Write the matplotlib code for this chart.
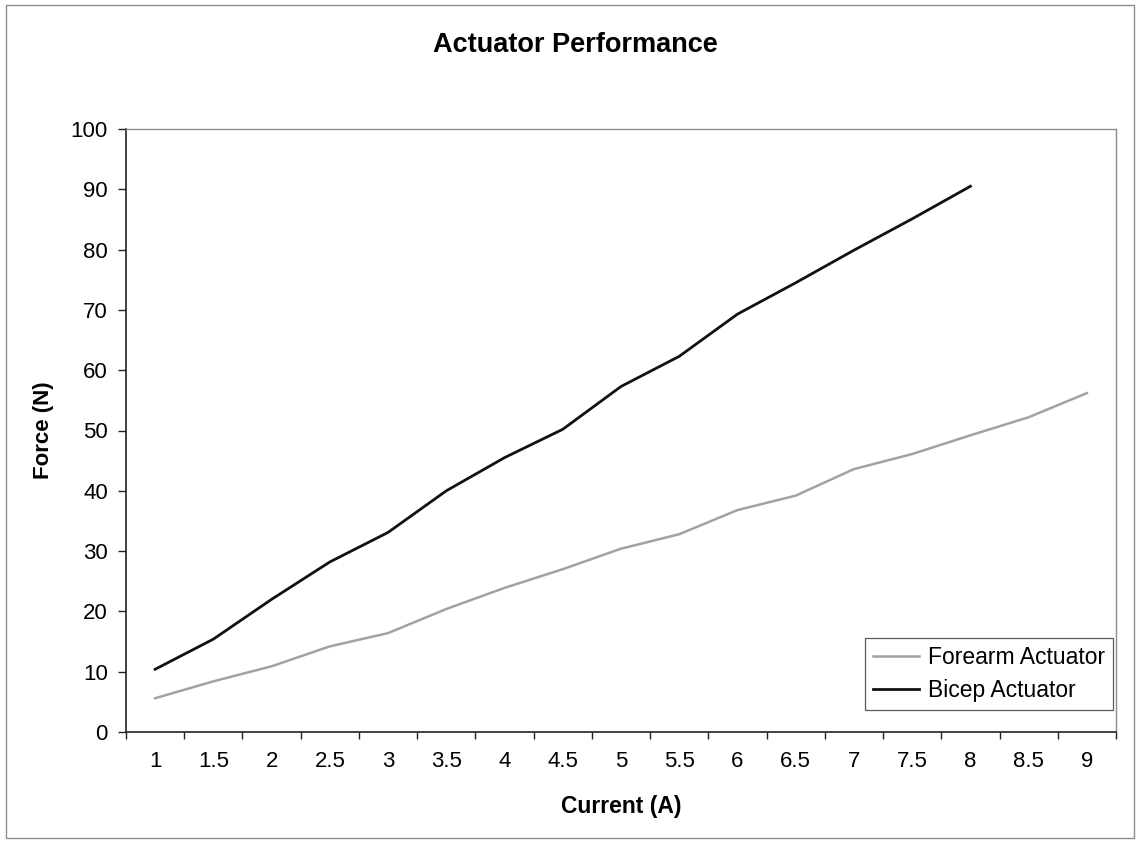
import matplotlib
matplotlib.use("Agg")
import matplotlib.pyplot as plt
from matplotlib.patches import Rectangle
import numpy as np

plt.rcParams["font.family"] = ["Liberation Sans", "DejaVu Sans"]

current = [1, 1.5, 2, 2.5, 3, 3.5, 4, 4.5, 5, 5.5, 6, 6.5, 7, 7.5, 8, 8.5, 9]
forearm = [5.6, 8.4, 10.9, 14.2, 16.4, 20.4, 23.9, 27.0, 30.4, 32.8,
           36.8, 39.2, 43.6, 46.1, 49.2, 52.2, 56.2]
bicep = [10.4, 15.4, 22.0, 28.2, 33.1, 40.0, 45.5, 50.2, 57.3, 62.3,
         69.3, 74.5, 79.9, 85.1, 90.5]
tick_labels = ["1", "1.5", "2", "2.5", "3", "3.5", "4", "4.5", "5",
               "5.5", "6", "6.5", "7", "7.5", "8", "8.5", "9"]

W, H = 1139, 842
fig = plt.figure(figsize=(W / 100, H / 100), dpi=100)
ax = fig.add_axes([126 / W, 1 - 732 / H, 990 / W, 603 / H])

# thin border round the whole chart
fig.patches.append(Rectangle((6 / W, 1 - 838 / H), 1128 / W, 833 / H,
                             transform=fig.transFigure, fill=False,
                             edgecolor="#8c8c8c", linewidth=1.0))

ax.plot(current, forearm, color="#a2a2a2", linewidth=1.8, label="Forearm Actuator")
ax.plot(current[:len(bicep)], bicep, color="#111111", linewidth=2.0, label="Bicep Actuator")

ax.set_xlim(0.75, 9.25)
ax.set_ylim(0, 100)

# category style axis: tick marks between categories, labels centred on them
ax.set_xticks(np.arange(0.75, 9.26, 0.5))
ax.set_xticklabels([])
ax.set_xticks(current, minor=True)
ax.set_xticklabels(tick_labels, minor=True, fontsize=16)
ax.tick_params(axis="x", which="major", direction="out", length=5, width=1, color="#222222")
ax.tick_params(axis="x", which="minor", length=0, pad=14)

ax.set_yticks(range(0, 101, 10))
ax.tick_params(axis="y", direction="out", length=6, width=1, color="#222222",
               pad=7, labelsize=16)

for side in ["left", "bottom"]:
    ax.spines[side].set_color("#222222")
    ax.spines[side].set_linewidth(1.2)
for side in ["top", "right"]:
    ax.spines[side].set_color("#8c8c8c")
    ax.spines[side].set_linewidth(1.0)

ax.set_xlabel("Current (A)", fontsize=16.5, fontweight="bold", va="center")
ax.xaxis.set_label_coords(0.5, -75 / 603)
ax.set_ylabel("Force (N)", fontsize=16, fontweight="bold", va="center")
ax.yaxis.set_label_coords(-83 / 990, 0.5)

fig.text(575 / W, 1 - 45 / H, "Actuator Performance", fontsize=19.5,
         fontweight="bold", ha="center", va="center")

leg = ax.legend(loc="lower right", bbox_to_anchor=(987 / 990, 22 / 603),
                borderaxespad=0, fontsize=16.5, frameon=True, fancybox=False,
                handlelength=2.0, handletextpad=0.4, labelspacing=0.45,
                borderpad=0.35)
leg.get_frame().set_edgecolor("#333333")
leg.get_frame().set_linewidth(0.9)

fig.savefig("out.png", dpi=100)
